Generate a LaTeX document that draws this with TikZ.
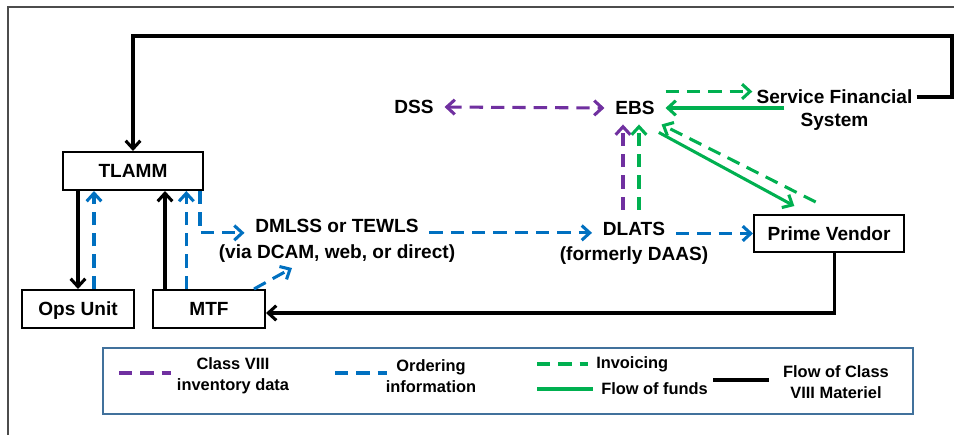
\documentclass[tikz,border=0pt]{standalone}
\usepackage{fontspec}
\setmainfont{Liberation Sans}
\usetikzlibrary{arrows.meta,positioning}
\definecolor{invpurple}{HTML}{7030A0}
\definecolor{ordblue}{HTML}{0070C0}
\definecolor{fundgreen}{HTML}{00B050}
\definecolor{legframe}{HTML}{41719C}

\begin{document}
\begin{tikzpicture}[x=0.75pt, y=-0.75pt,
  font=\fontsize{14.3}{18.75}\selectfont\bfseries,
  box/.style={draw, line width=1.5pt, minimum height=28.5pt, inner sep=0pt, text height=10.3pt, text depth=0pt},
  systxt/.style={inner xsep=8pt, inner ysep=3pt, text height=10.3pt, text depth=0pt},
  subtxt/.style={inner sep=0pt, text height=10.3pt, text depth=0pt},
  legtxt/.style={font=\fontsize{12.3}{15.75}\selectfont\bfseries, align=center, inner sep=0pt},
  arr/.style={-{Straight Barb[length=6pt,width=11pt]}},
  arrboth/.style={{Straight Barb[length=6pt,width=11pt]}-{Straight Barb[length=6pt,width=11pt]}},
  materiel/.style={line width=2.3pt, black},
  funds/.style={line width=2.3pt, fundgreen},
  invoicing/.style={funds, dash pattern=on 10pt off 6pt},
  ordering/.style={line width=2.3pt, ordblue, dash pattern=on 10pt off 6pt},
  inventory/.style={line width=2.3pt, invpurple, dash pattern=on 10pt off 6pt}]
            \useasboundingbox (0,0) rectangle (954,435);
            \draw[gray!60!black, line width=1pt] (8,435) -- (8,7) -- (954,7);
            \node (tlamm) [box, minimum width=105pt] at (133,171) {TLAMM};
            \node (ops) [box, minimum width=84pt] at (78,309) {Ops Unit};
            \node (mtf) [box, minimum width=84pt, right=12.75pt of ops] {MTF};
            \node (pv) [box, minimum width=112.5pt, minimum height=27.75pt] at (829,233.5) {Prime Vendor};
            \node (dss) [systxt] at (414,107) {DSS};
            \node (ebs) [systxt, inner ysep=7pt] at (635,108) {EBS};
            \node (sfs) [systxt, inner xsep=3pt] at (834.5,97) {Service Financial};
            \node (sfssub) [subtxt, below=3.15pt of sfs] {System};
            \node (dmlss) [systxt] at (337,226) {DMLSS or TEWLS};
            \node (dmlsssub) [subtxt, below=5.4pt of dmlss] {(via DCAM, web, or direct)};
            \node (dlats) [systxt] at (634,229) {DLATS};
            \node (dlatssub) [subtxt, below=4.65pt of dlats] {(formerly DAAS)};
            \coordinate (corner) at (952,36);
            \coordinate (mtfin) at (292,268);
            \draw[materiel, arr] (sfs.east) -| (corner) -| (tlamm.north);
            \draw[materiel, arr] (tlamm.south -| ops.north) -- (ops.north);
            \draw[ordering, arr] ([xshift=12pt]ops.north) -- ([xshift=12pt]ops.north |- tlamm.south);
            \draw[materiel, arr] ([xshift=-33pt]mtf.north) -- ([xshift=-33pt]mtf.north |- tlamm.south);
            \draw[ordering, arr] ([xshift=-17pt]mtf.north) -- ([xshift=-17pt]mtf.north |- tlamm.south);
            \draw[ordering, arr] ([xshift=-3pt]tlamm.south east) |- (dmlss.base west);
            \draw[ordering, arr] ([xshift=-9pt]mtf.north east) -- (mtfin);
            \draw[ordering, arr] (dmlss.base east) -- (dmlss.base east -| dlats.west);
            \draw[ordering, arr] (dlats.east |- pv.west) -- (pv.west);
            \draw[inventory, arr] ([xshift=-9pt,yshift=6pt]dlats.north -| ebs.south) -- ([xshift=-9pt]ebs.south);
            \draw[invoicing, arr] ([xshift=3pt,yshift=6pt]dlats.north -| ebs.south) -- ([xshift=3pt]ebs.south);
            \draw[inventory, arrboth] (dss.east) -- (ebs.west);
            \draw[invoicing, arr] (ebs.north east) -- (ebs.north east -| sfs.west);
            \draw[funds, arr] ([xshift=24pt]sfs.south west |- ebs.east) -- (ebs.east);
            \draw[funds, arr] ([xshift=-5pt,yshift=-6pt]ebs.south east) -- ([xshift=31pt,yshift=6pt]pv.north west);
            \draw[invoicing, arr] ([xshift=47pt,yshift=9pt]pv.north west) -- ([xshift=-3pt]ebs.south east);
            \draw[materiel, arr] ([xshift=4pt]pv.south) |- ([yshift=-3pt]mtf.east);
            \draw[legframe, line width=0.8pt] (103,348) rectangle (913,414);
            \draw[inventory] (119,373) -- (171,373);
            \node (leginv) [legtxt] at (233,375.5) {Class VIII\\inventory data};
            \draw[ordering] (335,373) -- (387,373);
            \node (legord) [legtxt] at (431,376) {Ordering\\information};
            \draw[invoicing] (537,364) -- (588,364);
            \node (leginvc) [legtxt, anchor=west] at (596,364) {Invoicing};
            \draw[funds] (537,389) -- (593,389);
            \node (legfund) [legtxt, anchor=west] at (601,389) {Flow of funds};
            \draw[materiel] (713,380) -- (769,380);
            \node (legmat) [legtxt] at (836,382) {Flow of Class\\VIII Materiel};
        \end{tikzpicture}
\end{document}
